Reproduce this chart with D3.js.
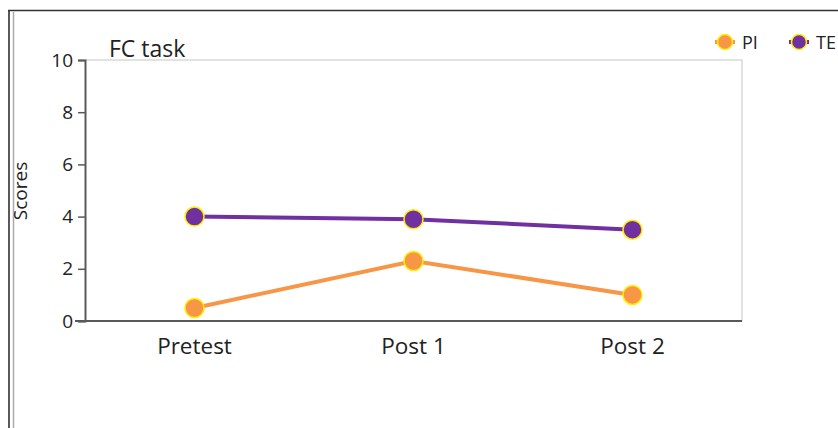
<!DOCTYPE html>
<html>
<head>
<meta charset="utf-8">
<script src="https://cdn.jsdelivr.net/npm/d3@7"></script>
<style>
  body { margin: 0; background: #fff; }
  svg { display: block; font-family: "Open Sans", sans-serif; }
</style>
</head>
<body>
<div id="chart"></div>
<script>
// chart data
const categories = ['Pretest', 'Post 1', 'Post 2'];
const piValues = [0.5, 2.3, 1.0];
const teValues = [4.0, 3.9, 3.5];
const yTicks = [0, 2, 4, 6, 8, 10];
const seriesNames = ['PI', 'TE'];
const seriesColors = ['#f79646', '#7030a0'];

const width = 838, height = 428;
const plot = { left: 85, right: 742, top: 60, bottom: 321 };
const font = '"Open Sans", sans-serif';

const svg = d3.select('#chart').append('svg')
    .attr('width', width)
    .attr('height', height);

// outer frame (double line on the left, line on top)
svg.append('line').attr('x1', 9).attr('x2', 9).attr('y1', 10).attr('y2', height)
    .attr('stroke', '#222').attr('stroke-width', 1.5);
svg.append('line').attr('x1', 13.5).attr('x2', 13.5).attr('y1', 12).attr('y2', height)
    .attr('stroke', '#aaa').attr('stroke-width', 1.5);
svg.append('line').attr('x1', 8).attr('x2', width).attr('y1', 10.5).attr('y2', 10.5)
    .attr('stroke', '#333').attr('stroke-width', 1.5);

const x = d3.scaleBand().domain(categories).range([plot.left, plot.right]);
const y = d3.scaleLinear().domain([0, 10]).range([plot.bottom, plot.top]);

// light border on top / right of plot
svg.append('path')
    .attr('d', `M${plot.left},${plot.top}H${plot.right}V${plot.bottom}`)
    .attr('fill', 'none').attr('stroke', '#d9d9d9').attr('stroke-width', 1.5);

// y axis
const yAxis = svg.append('g')
    .attr('transform', `translate(${plot.left},0)`)
    .call(d3.axisLeft(y).tickValues(yTicks).tickSize(7).tickPadding(5));
yAxis.attr('font-family', font).attr('font-size', 19);
yAxis.select('.domain').attr('stroke', '#595959').attr('stroke-width', 2);
yAxis.selectAll('.tick line').attr('stroke', '#595959').attr('stroke-width', 1.5);
yAxis.selectAll('.tick text').attr('fill', '#222');

// x axis
const xAxis = svg.append('g')
    .attr('transform', `translate(0,${plot.bottom})`)
    .call(d3.axisBottom(x).tickSize(0).tickPadding(17));
xAxis.attr('font-family', font).attr('font-size', 22.5);
xAxis.select('.domain').remove();
svg.append('line').attr('x1', 75).attr('x2', plot.right)
    .attr('y1', plot.bottom).attr('y2', plot.bottom)
    .attr('stroke', '#595959').attr('stroke-width', 2);
xAxis.selectAll('.tick text').attr('fill', '#222');

// title and axis label
svg.append('text').attr('x', 109).attr('y', 57)
    .attr('font-size', 23).attr('fill', '#222').text('FC task');
svg.append('text')
    .attr('transform', 'translate(27,191) rotate(-90)')
    .attr('text-anchor', 'middle')
    .attr('font-size', 19).attr('fill', '#222').text('Scores');

// series
const series = [piValues, teValues];
const line = d3.line()
    .x((d, i) => x(categories[i]) + x.bandwidth() / 2)
    .y(d => y(d));

series.forEach((vals, s) => {
    svg.append('path').datum(vals)
        .attr('d', line)
        .attr('fill', 'none')
        .attr('stroke', seriesColors[s])
        .attr('stroke-width', 4);
    svg.append('g').selectAll('circle')
        .data(vals)
        .enter()
        .append('circle')
        .attr('cx', (d, i) => x(categories[i]) + x.bandwidth() / 2)
        .attr('cy', d => y(d))
        .attr('r', 9.5)
        .attr('fill', seriesColors[s])
        .attr('stroke', '#ffef00')
        .attr('stroke-width', 1.5);
});

// legend
const legendX = [725, 799];
seriesNames.forEach((name, s) => {
    const g = svg.append('g').attr('transform', `translate(${legendX[s]},42)`);
    g.append('line').attr('x1', -10).attr('x2', 10).attr('y1', 0).attr('y2', 0)
        .attr('stroke', seriesColors[s]).attr('stroke-width', 4);
    g.append('circle').attr('r', 7.5).attr('fill', seriesColors[s])
        .attr('stroke', '#ffef00').attr('stroke-width', 1.5);
    g.append('text').attr('x', 17).attr('y', 7)
        .attr('font-size', 18).attr('fill', '#222').text(name);
});
</script>
</body>
</html>
